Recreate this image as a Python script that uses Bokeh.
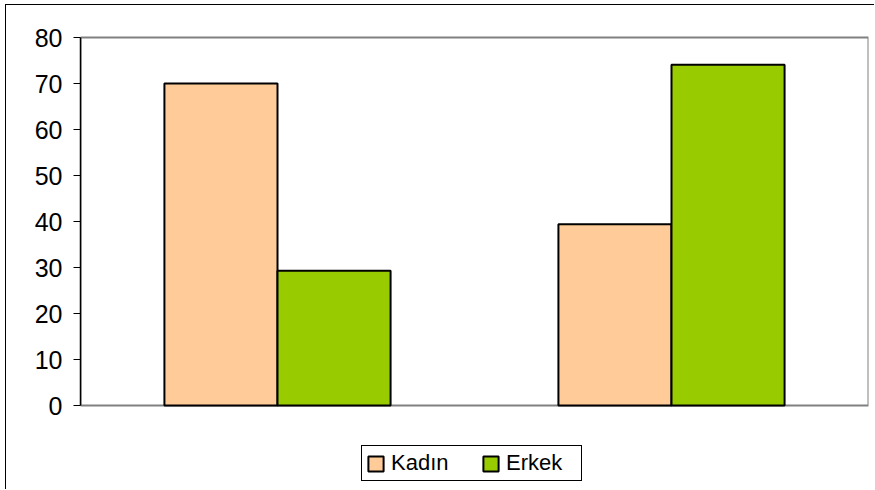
from bokeh.plotting import figure
from bokeh.models import (ColumnDataSource, FactorRange, Range1d, Legend, LegendItem,
                          FixedTicker, BoxAnnotation)
from bokeh.transform import dodge
from bokeh.embed import file_html
from bokeh.resources import INLINE

# Data
groups = ["Grup 1", "Grup 2"]
kadin = [70.0, 39.4]
erkek = [29.3, 74.1]
series_names = ["Kadın", "Erkek"]
series_colors = ["#FFCC99", "#99CC00"]
y_min, y_max = 0, 80
y_ticks = list(range(0, 81, 10))

source = ColumnDataSource(data=dict(groups=groups, kadin=kadin, erkek=erkek))

# Layout: the frame reaches down to the canvas bottom so the legend can sit
# inside it; the value axis 0..80 spans pixel rows 37..405 of the page.
W, H = 869, 485
top_off = 5                         # margin + outer border above the canvas
frame_top, frame_bottom = 35, 490   # page rows
axis_top, axis_bottom = 37, 405     # page rows of y_max and y_min
ppu = (axis_bottom - axis_top) / (y_max - y_min)
r_end = y_max + (axis_top - frame_top) / ppu
r_start = y_min - (frame_bottom - axis_bottom) / ppu

p = figure(
    x_range=FactorRange(*groups),
    y_range=Range1d(r_start, r_end),
    width=W, height=H,
    output_backend="svg",
    toolbar_location=None,
    min_border_left=74, min_border_right=7,
    min_border_top=frame_top - top_off, min_border_bottom=0,
)
p.styles = {
    "margin-left": "5px", "margin-top": "4px",
    "border-left": "1px solid black", "border-top": "1px solid black",
}

# Plot area box in grey
p.add_layout(BoxAnnotation(bottom=y_min, top=y_max, fill_color=None, fill_alpha=0,
                           line_color="#808080", line_alpha=1.0, line_width=2,
                           level="underlay"))

bar_w = 0.287
r1 = p.vbar(x=dodge("groups", -bar_w / 2, range=p.x_range), top="kadin", width=bar_w,
            source=source, fill_color=series_colors[0], line_color="black", line_width=2)
r2 = p.vbar(x=dodge("groups", bar_w / 2, range=p.x_range), top="erkek", width=bar_w,
            source=source, fill_color=series_colors[1], line_color="black", line_width=2)

p.xgrid.visible = False
p.ygrid.visible = False
p.outline_line_color = None
p.background_fill_color = "white"
p.border_fill_color = "white"
p.xaxis.visible = False

# Y axis
yax = p.yaxis[0]
yax.ticker = FixedTicker(ticks=y_ticks)
yax.bounds = (y_min, y_max)
yax.axis_line_color = "black"
yax.axis_line_width = 1.5
yax.major_tick_line_color = "black"
yax.major_tick_in = 0
yax.major_tick_out = 7
yax.minor_tick_line_color = None
yax.major_label_text_font = "Liberation Sans"
yax.major_label_text_font_size = "25px"
yax.major_label_text_color = "black"
yax.major_label_standoff = 11

legend = Legend(
    items=[LegendItem(label=series_names[0], renderers=[r1]),
           LegendItem(label=series_names[1], renderers=[r2])],
    orientation="horizontal",
    location=(281, 9),
    glyph_width=19, glyph_height=19,
    label_text_font="Liberation Sans",
    label_text_font_size="22px",
    label_text_color="black",
    label_standoff=6,
    label_width=71,
    spacing=19,
    padding=4,
    margin=0,
    border_line_color="black",
    border_line_width=1,
    border_line_alpha=1.0,
    background_fill_color="white",
)
p.add_layout(legend, "center")

open("out.html", "w").write(file_html(p, INLINE))
